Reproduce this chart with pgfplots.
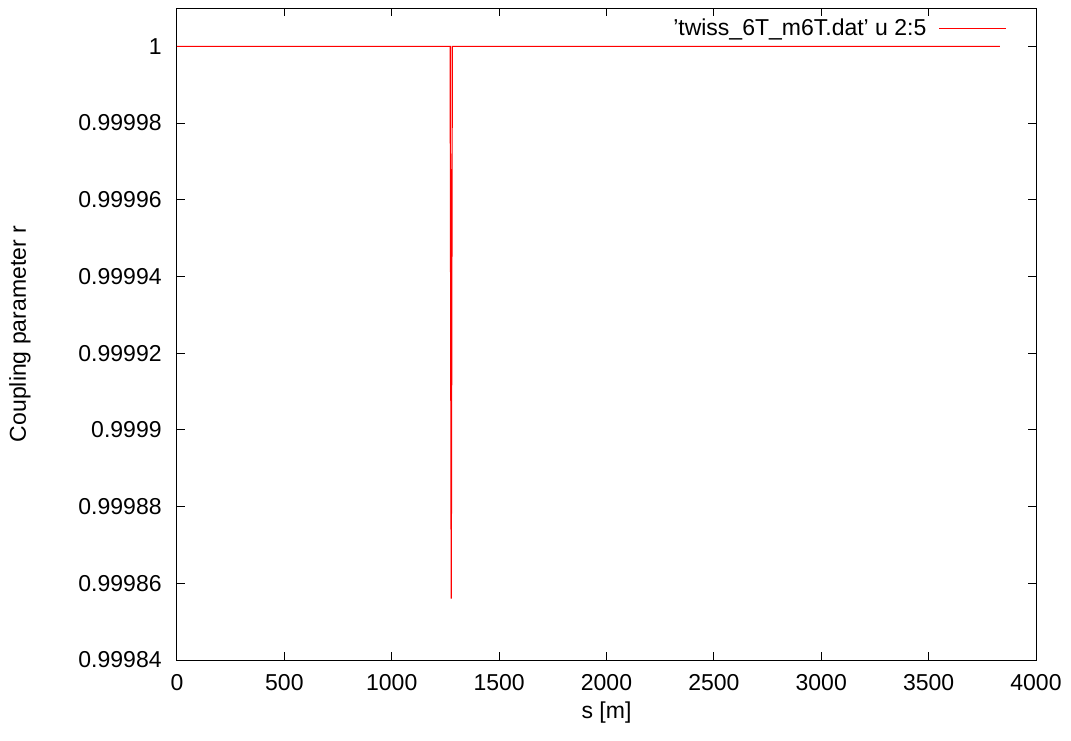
\documentclass[border=0pt]{standalone}
\usepackage{fontspec}
\setmainfont{Liberation Sans}
\usepackage{pgfplots}
\pgfplotsset{compat=1.18}

% y values are stored as (r - 1) * 1e5 so the tiny dip keeps its precision
\begin{document}
\begin{tikzpicture}
\begin{axis}[
    scale only axis,
    width=429.5pt, height=326pt,
    xmin=0, xmax=4000,
    ymin=-16, ymax=1,
    xtick={0,500,...,4000},
    ytick={-16,-14,...,0},
    yticklabels={0.99984,0.99986,0.99988,0.9999,0.99992,0.99994,0.99996,0.99998,1},
    /pgf/number format/assume math mode=true,
    /pgf/number format/set thousands separator={},
    tick align=inside,
    major tick length=4pt,
    minor tick num=0,
    tick style={black, line width=0.5pt},
    axis line style={line width=0.5pt},
    ticklabel style={font=\fontsize{11.5}{13}\selectfont},
    xticklabel style={anchor=center, yshift=-11.5pt},
    yticklabel style={anchor=east, inner sep=0pt, xshift=-7.5pt},
    xlabel={s [m]},
    ylabel={Coupling parameter r},
    label style={font=\fontsize{11.5}{13}\selectfont},
    xlabel style={at={(0.5,0)}, anchor=center, yshift=-26.5pt},
    ylabel style={at={(0,0.5)}, anchor=center, yshift=78.5pt},
    legend style={draw=none, fill=none, font=\fontsize{11.5}{13}\selectfont,
        at={(1,1)}, anchor=north east, xshift=-14.5pt, yshift=-3pt,
        inner sep=0pt, legend cell align=right,
        /tikz/every odd column/.append style={column sep=4pt}},
    legend plot pos=right,
    legend image code/.code={\draw[#1] (0pt,0pt) -- (33.5pt,0pt);},
]
\addplot[red, line width=0.6pt] coordinates {
    (0,0) (1272,0) (1277,-14.4) (1282,0) (3832,0)
};
\addlegendentry{'twiss\_6T\_m6T.dat' u 2:5}
\end{axis}
\pgfresetboundingbox
\path ([shift={(-88.5pt,-40pt)}]current axis.south west)
      rectangle ([shift={(17.5pt,4pt)}]current axis.north east);
\end{tikzpicture}
\end{document}
